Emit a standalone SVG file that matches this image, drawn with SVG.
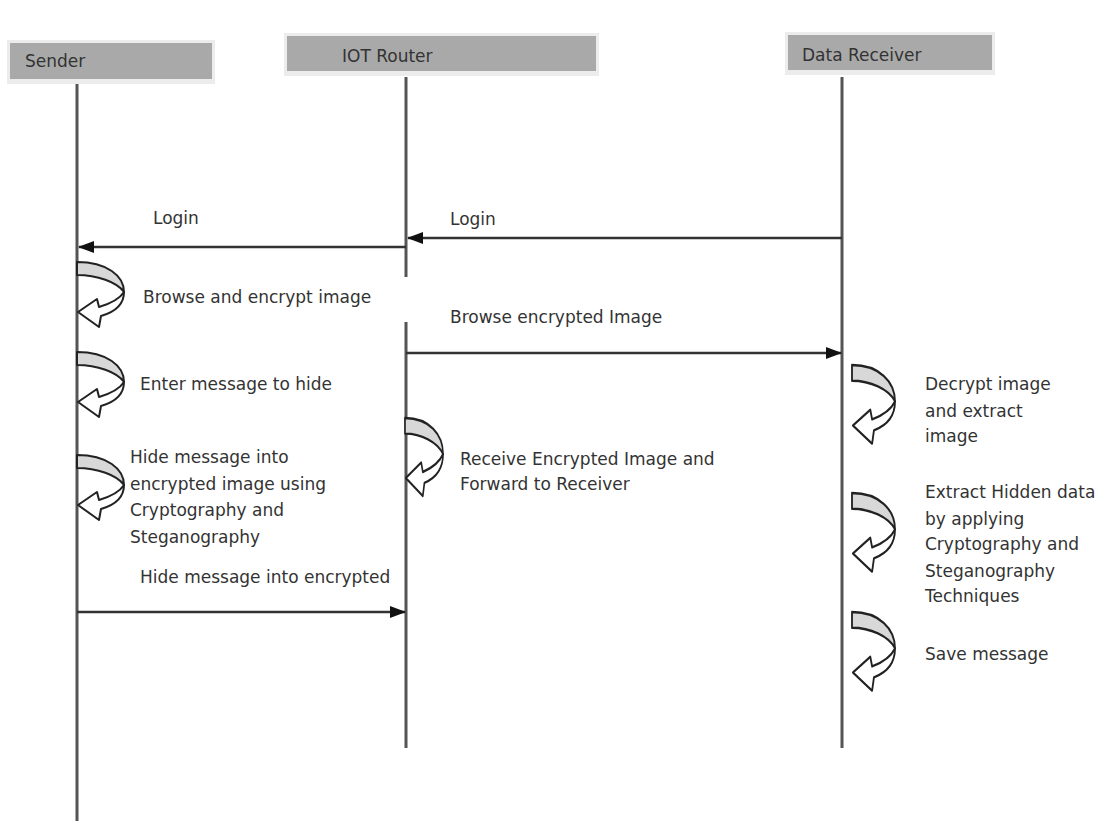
<svg xmlns="http://www.w3.org/2000/svg" width="1110" height="821" viewBox="0 0 1110 821">
<defs>
<style>
text{font-family:"DejaVu Sans",Verdana,sans-serif;font-size:17px;fill:#333}
.hdr{fill:#a9a9a9}
.shd{fill:#ececec}
.life{stroke:#555;stroke-width:3;fill:none}
.msg{stroke:#333;stroke-width:2.5;fill:none;marker-end:url(#ah)}
.band{fill:#d8d8d8;stroke:#222;stroke-width:2;stroke-linejoin:round}
.shaft{fill:#fff;stroke:#222;stroke-width:2;stroke-linejoin:round}
</style>
<marker id="ah" viewBox="0 0 16 12" refX="15" refY="6" markerWidth="16" markerHeight="12" markerUnits="userSpaceOnUse" orient="auto">
<path d="M0,0 L16,6 L0,12 Z" fill="#111"/>
</marker>
<g id="loop">
<path class="band" d="M0,0 C30,0 47,14 47,30 C40,20 20,13 0,13 Z"/>
<path class="shaft" d="M47,30 C47,42 38,50 24,54 L22,65 L1,50 L20,37 L22,45 C32,42 42,38 47,30 Z"/>
</g>
</defs>
<rect width="1110" height="821" fill="#fff"/>

<g id="sender">
<rect class="shd" x="7" y="40" width="208" height="44"/>
<rect class="hdr" x="10" y="43" width="202" height="36"/>
<text x="25" y="67">Sender</text>
</g>
<g id="router">
<rect class="shd" x="284" y="33" width="315" height="43"/>
<rect class="hdr" x="287" y="36" width="309" height="35"/>
<text x="342" y="62">IOT Router</text>
</g>
<g id="receiver">
<rect class="shd" x="785" y="32" width="210" height="43"/>
<rect class="hdr" x="788" y="35" width="204" height="35"/>
<text x="802" y="61">Data Receiver</text>
</g>

<g id="lifelines">
<line class="life" x1="77" y1="84" x2="77" y2="821"/>
<line class="life" x1="406" y1="77" x2="406" y2="277"/>
<line class="life" x1="406" y1="322" x2="406" y2="748"/>
<line class="life" x1="842" y1="77" x2="842" y2="748"/>
</g>

<g id="connectors">
<line class="msg" x1="842" y1="238" x2="408" y2="238"/>
<line class="msg" x1="406" y1="247" x2="79" y2="247"/>
<line class="msg" x1="406" y1="353" x2="841" y2="353"/>
<line class="msg" x1="77" y1="612" x2="405" y2="612"/>
<text x="450" y="225">Login</text>
<text x="153" y="224">Login</text>
<text x="450" y="323">Browse encrypted Image</text>
<text x="140" y="583">Hide message into encrypted</text>
</g>

<g id="sender-loops">
<use href="#loop" transform="translate(77,262)"/>
<use href="#loop" transform="translate(77,352)"/>
<use href="#loop" transform="translate(77,455)"/>
<text x="143" y="303">Browse and encrypt image</text>
<text x="140" y="390">Enter message to hide</text>
<text x="130" y="463">Hide message into</text>
<text x="130" y="490">encrypted image using</text>
<text x="130" y="516">Cryptography and</text>
<text x="130" y="543">Steganography</text>
</g>

<g id="router-loop">
<use href="#loop" transform="translate(405,418) scale(0.81,1.2)"/>
<text x="460" y="465">Receive Encrypted Image and</text>
<text x="460" y="490">Forward to Receiver</text>
</g>

<g id="receiver-loops">
<use href="#loop" transform="translate(852,365) scale(0.915,1.21)"/>
<use href="#loop" transform="translate(852,493) scale(0.915,1.21)"/>
<use href="#loop" transform="translate(852,612) scale(0.915,1.21)"/>
<text x="925" y="390">Decrypt image</text>
<text x="925" y="417">and extract</text>
<text x="925" y="442">image</text>
<text x="925" y="498">Extract Hidden data</text>
<text x="925" y="525">by applying</text>
<text x="925" y="550">Cryptography and</text>
<text x="925" y="577">Steganography</text>
<text x="925" y="602">Techniques</text>
<text x="925" y="660">Save message</text>
</g>
</svg>
